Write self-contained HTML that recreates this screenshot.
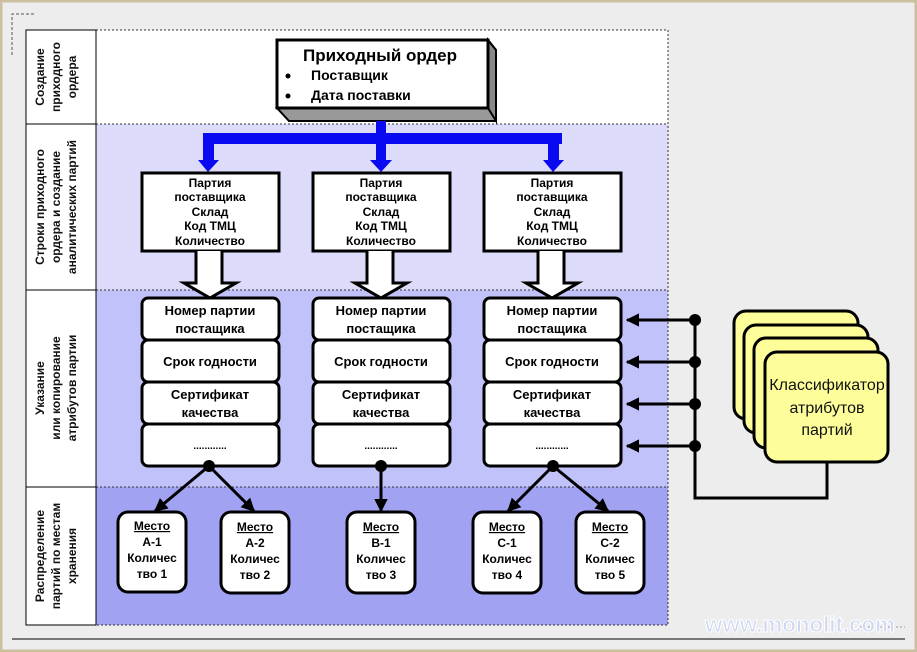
<!DOCTYPE html>
<html><head><meta charset="utf-8"><style>
body{margin:0;background:#eee}
svg{display:block}
text{font-family:"Liberation Sans",sans-serif}
</style></head><body>
<svg width="917" height="652" viewBox="0 0 917 652" xmlns="http://www.w3.org/2000/svg">
<defs>
<marker id="ar" viewBox="0 0 10 10" refX="9" refY="5" markerWidth="4.5" markerHeight="4.5" orient="auto"><path d="M0,0L10,5L0,10z" fill="#000"/></marker>
</defs>
<rect x="0" y="0" width="917" height="652" fill="#ededed" stroke="#cbbf9f" stroke-width="5"/>
<path d="M12,55V14H35" fill="none" stroke="#555" stroke-dasharray="3,2"/>
<line x1="12" y1="639" x2="905" y2="639" stroke="#777" stroke-width="2"/>
<line x1="860" y1="627" x2="905" y2="627" stroke="#999" stroke-dasharray="2,2"/>
<rect x="96" y="30" width="572" height="94" fill="#fff"/>
<rect x="96" y="124" width="572" height="166" fill="#dcdcfa"/>
<rect x="96" y="290" width="572" height="197" fill="#c2c2fa"/>
<rect x="96" y="487" width="572" height="138" fill="#a2a2f2"/>
<g stroke="#333" stroke-dasharray="2,2" fill="none">
<path d="M96,30H668V625H96"/><path d="M96,124H668M96,290H668M96,487H668"/>
</g>
<rect x="26" y="30" width="70" height="595" fill="#fff" stroke="#000"/>
<path d="M26,124H96M26,290H96M26,487H96" stroke="#000"/>
<g font-size="12" font-weight="bold" text-anchor="middle" fill="#111">
<text transform="translate(61,77) rotate(-90)"><tspan x="0" y="-17">Создание</tspan><tspan x="0" y="-1">приходного</tspan><tspan x="0" y="15">ордера</tspan></text>
<text transform="translate(61,207) rotate(-90)"><tspan x="0" y="-17">Строки приходного</tspan><tspan x="0" y="-1">ордера и создание</tspan><tspan x="0" y="15">аналитических партий</tspan></text>
<text transform="translate(61,388) rotate(-90)"><tspan x="0" y="-17">Указание</tspan><tspan x="0" y="-1">или копирование</tspan><tspan x="0" y="15">атрибутов партии</tspan></text>
<text transform="translate(61,556) rotate(-90)"><tspan x="0" y="-17">Распределение</tspan><tspan x="0" y="-1">партий по местам</tspan><tspan x="0" y="15">хранения</tspan></text>
</g>
<path d="M488,40L496,50V121H289L277,108H488Z" fill="#999" stroke="#000" stroke-width="2"/>
<path d="M488,40L496,50V121L488,108Z" fill="#888" stroke="#000" stroke-width="2"/>
<rect x="277" y="40" width="211" height="68" fill="#fff" stroke="#000" stroke-width="3"/>
<text x="380" y="61" font-size="17" font-weight="bold" text-anchor="middle">Приходный ордер</text>
<circle cx="288" cy="76" r="2.5"/><circle cx="288" cy="96" r="2.5"/>
<text x="311" y="80" font-size="14" font-weight="bold">Поставщик</text>
<text x="311" y="100" font-size="14" font-weight="bold">Дата поставки</text>
<g fill="#0a0af0">
<rect x="376" y="121" width="10" height="40"/>
<rect x="203" y="133" width="359" height="11"/>
<rect x="203" y="133" width="11" height="28"/>
<rect x="548" y="133" width="11" height="28"/>
<path d="M198,160H219L208,172Z M370,160H392L381,172Z M543,160H564L553,172Z"/>
</g>
<g id="c1">
<rect x="142" y="173" width="137" height="78" fill="#fff" stroke="#000" stroke-width="3"/>
<path d="M196,251V283H184L210,298L236,283H222V251" fill="#fff" stroke="#000" stroke-width="3"/>
<g font-size="12" font-weight="bold" text-anchor="middle"><text x="210" y="187">Партия</text><text x="210" y="201">поставщика</text><text x="210" y="216">Склад</text><text x="210" y="230">Код ТМЦ</text><text x="210" y="245">Количество</text></g>
<g fill="#fff" stroke="#000" stroke-width="3">
<rect x="142" y="298" width="137" height="42" rx="6"/><rect x="142" y="340" width="137" height="42" rx="6"/><rect x="142" y="382" width="137" height="42" rx="6"/><rect x="142" y="424" width="137" height="42" rx="6"/></g>
<g font-size="13" font-weight="bold" text-anchor="middle"><text x="210" y="315">Номер партии</text><text x="210" y="333">постащика</text><text x="210" y="366">Срок годности</text><text x="210" y="399">Сертификат</text><text x="210" y="417">качества</text><text x="210" y="449" font-size="10">............</text></g>
</g>
<use href="#c1" x="171"/>
<use href="#c1" x="342"/>
<g stroke="#000" stroke-width="3" fill="none" marker-end="url(#ar)">
<line x1="209" y1="466" x2="155" y2="511"/><line x1="209" y1="466" x2="254" y2="511"/>
<line x1="381" y1="466" x2="381" y2="511"/>
<line x1="553" y1="466" x2="508" y2="511"/><line x1="553" y1="466" x2="608" y2="511"/>
<line x1="695" y1="320" x2="627" y2="320"/><line x1="695" y1="362" x2="627" y2="362"/><line x1="695" y1="404" x2="627" y2="404"/><line x1="695" y1="446" x2="627" y2="446"/>
</g>
<g fill="#000"><circle cx="209" cy="466" r="6"/><circle cx="381" cy="466" r="6"/><circle cx="553" cy="466" r="6"/>
<circle cx="695" cy="320" r="6"/><circle cx="695" cy="362" r="6"/><circle cx="695" cy="404" r="6"/><circle cx="695" cy="446" r="6"/></g>
<path d="M695,320V498H827V462" stroke="#000" stroke-width="3" fill="none"/>
<g fill="#fff" stroke="#000" stroke-width="3">
<rect x="118" y="512" width="68" height="80" rx="10"/><rect x="221" y="512" width="68" height="81" rx="10"/><rect x="347" y="512" width="68" height="81" rx="10"/><rect x="473" y="512" width="68" height="81" rx="10"/><rect x="576" y="512" width="68" height="81" rx="10"/></g>
<g font-size="12" font-weight="bold" text-anchor="middle">
<text x="152" y="530" text-decoration="underline">Место</text><text x="152" y="546">А-1</text><text x="152" y="562">Количес</text><text x="152" y="578">тво 1</text>
<text x="255" y="531" text-decoration="underline">Место</text><text x="255" y="547">А-2</text><text x="255" y="563">Количес</text><text x="255" y="579">тво 2</text>
<text x="381" y="531" text-decoration="underline">Место</text><text x="381" y="547">В-1</text><text x="381" y="563">Количес</text><text x="381" y="579">тво 3</text>
<text x="507" y="531" text-decoration="underline">Место</text><text x="507" y="547">С-1</text><text x="507" y="563">Количес</text><text x="507" y="579">тво 4</text>
<text x="610" y="531" text-decoration="underline">Место</text><text x="610" y="547">С-2</text><text x="610" y="563">Количес</text><text x="610" y="579">тво 5</text>
</g>
<g fill="#fdfd9a" stroke="#000" stroke-width="3">
<rect x="734" y="311" width="124" height="108" rx="12"/>
<rect x="744" y="325" width="124" height="108" rx="12"/>
<rect x="754" y="338" width="124" height="110" rx="12"/>
<rect x="765" y="352" width="123" height="110" rx="12"/>
</g>
<g font-size="16" text-anchor="middle" fill="#111"><text x="827" y="390">Классификатор</text><text x="827" y="413">атрибутов</text><text x="827" y="435">партий</text></g>
<text x="800" y="632" font-size="22" font-weight="bold" text-anchor="middle" fill="#cdd6f2" stroke="#fff" stroke-width="1" textLength="190" lengthAdjust="spacingAndGlyphs">www.monolit.com</text>
</svg>
</body></html>
